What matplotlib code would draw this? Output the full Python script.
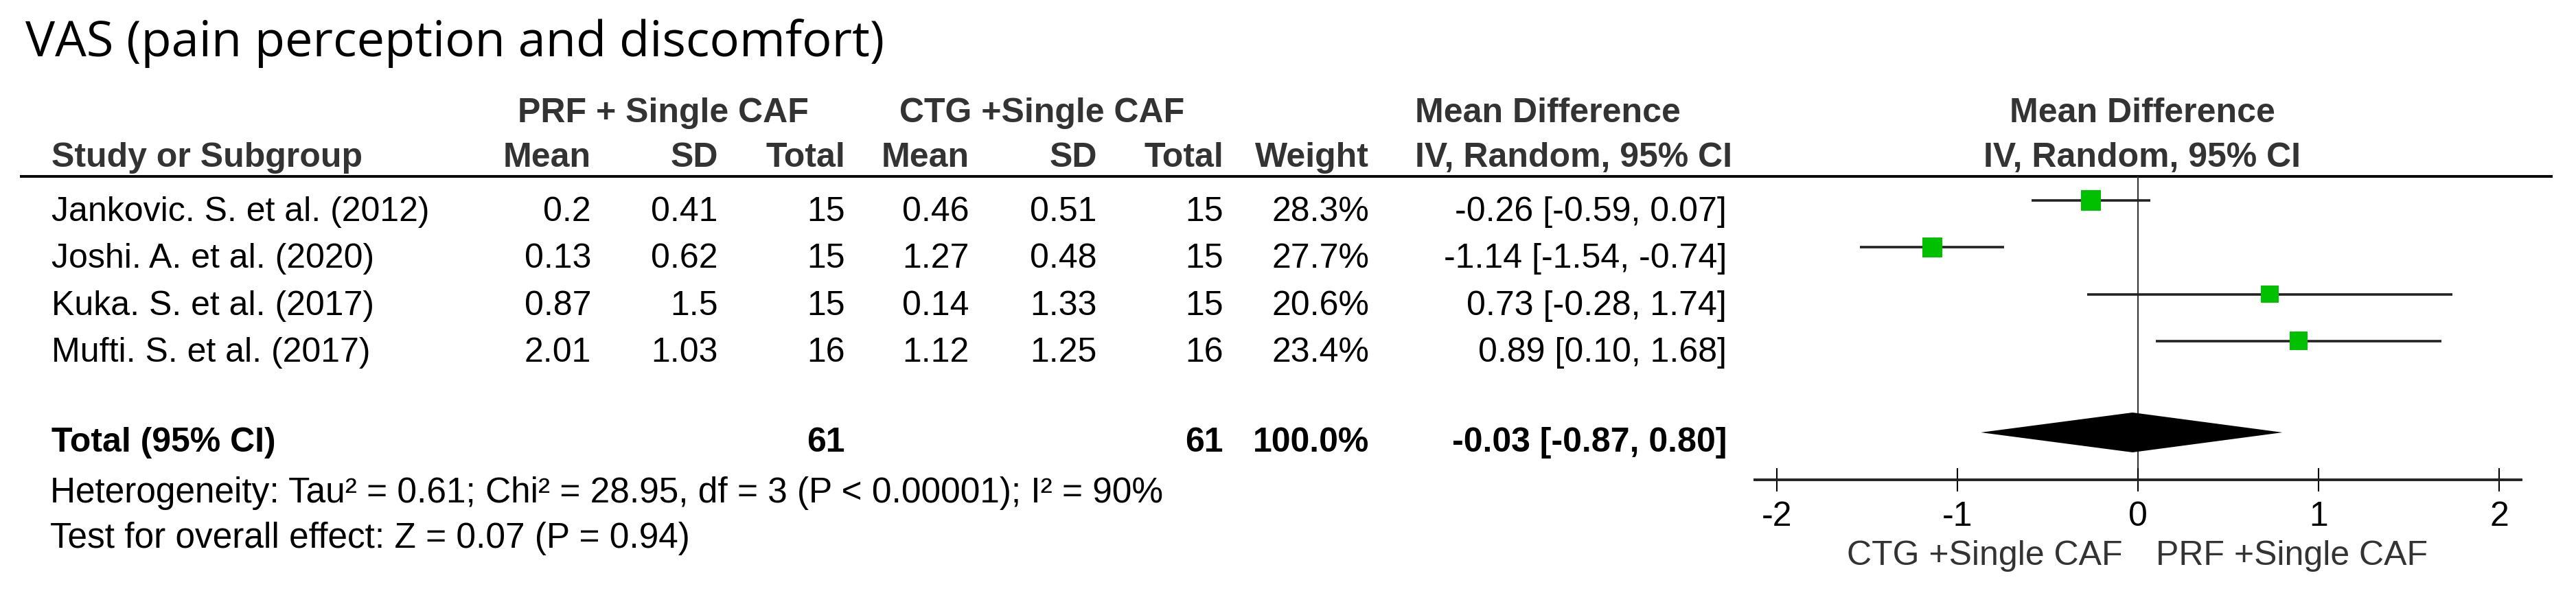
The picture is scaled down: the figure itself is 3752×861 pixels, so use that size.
import numpy as np
import matplotlib
matplotlib.use("Agg")
import matplotlib.pyplot as plt

plt.rcParams['axes.unicode_minus'] = False

# data
studies = ["Jankovic. S. et al. (2012)", "Joshi. A. et al. (2020)",
           "Kuka. S. et al. (2017)", "Mufti. S. et al. (2017)"]
prf_mean = [0.2, 0.13, 0.87, 2.01]
prf_sd = [0.41, 0.62, 1.5, 1.03]
prf_n = [15, 15, 15, 16]
ctg_mean = [0.46, 1.27, 0.14, 1.12]
ctg_sd = [0.51, 0.48, 1.33, 1.25]
ctg_n = [15, 15, 15, 16]
weights = [28.3, 27.7, 20.6, 23.4]
md = [-0.26, -1.14, 0.73, 0.89]
ci_lo = [-0.59, -1.54, -0.28, 0.10]
ci_hi = [0.07, -0.74, 1.74, 1.68]
total_md, total_lo, total_hi = -0.03, -0.87, 0.80
heterogeneity = "Heterogeneity: Tau² = 0.61; Chi² = 28.95, df = 3 (P < 0.00001); I² = 90%"
overall = "Test for overall effect: Z = 0.07 (P = 0.94)"
ticks = [-2, -1, 0, 1, 2]
left_label = "CTG +Single CAF"
right_label = "PRF +Single CAF"

W, H = 3752, 862
fig = plt.figure(figsize=(W / 100, H / 100), dpi=100)
ax = fig.add_axes([0, 0, 1, 1])
ax.set_xlim(0, W)
ax.set_ylim(H, 0)
ax.axis('off')

tf = ['Liberation Sans', 'DejaVu Sans']
fs = 36
hdr = dict(fontsize=fs, fontweight='bold', color='#333333', family=tf)
txt = dict(fontsize=fs, color='black', family=tf)

ax.text(37, 82, "VAS (pain perception and discomfort)", fontsize=52,
        family=['Open Sans', 'DejaVu Sans'], color='black', va='baseline')

# header
ax.text(966, 178, "PRF + Single CAF", ha='center', va='baseline', **hdr)
ax.text(1518, 178, "CTG +Single CAF", ha='center', va='baseline', **hdr)
ax.text(2061, 178, "Mean Difference", ha='left', va='baseline', **hdr)
ax.text(3120, 178, "Mean Difference", ha='center', va='baseline', **hdr)
ax.text(75, 243, "Study or Subgroup", ha='left', va='baseline', **hdr)
cols = [861, 1046, 1231, 1412, 1598, 1782, 1994]
for x, lab in zip(cols, ["Mean", "SD", "Total", "Mean", "SD", "Total", "Weight"]):
    ax.text(x, 243, lab, ha='right', va='baseline', **hdr)
ax.text(2061, 243, "IV, Random, 95% CI", ha='left', va='baseline', **hdr)
ax.text(3120, 243, "IV, Random, 95% CI", ha='center', va='baseline', **hdr)
ax.plot([29, 3718], [258, 258], color='black', lw=2.8, solid_capstyle='butt')

# rows
row0, step = 293, 68.3
row_y = [row0 + i * step for i in range(len(studies))]
md_right = 2515
for i, y in enumerate(row_y):
    b = y + 29
    ax.text(75, b, studies[i], ha='left', va='baseline', **txt)
    vals = [prf_mean[i], prf_sd[i], prf_n[i], ctg_mean[i], ctg_sd[i], ctg_n[i]]
    for x, v in zip(cols[:6], vals):
        ax.text(x, b, str(v), ha='right', va='baseline', **txt)
    ax.text(cols[6], b, f"{weights[i]:.1f}%", ha='right', va='baseline', **txt)
    ax.text(md_right, b, f"{md[i]:.2f} [{ci_lo[i]:.2f}, {ci_hi[i]:.2f}]",
            ha='right', va='baseline', **txt)

# total row
ty = 631
tb = ty + 27
bold = dict(txt, fontweight='bold')
ax.text(75, tb, "Total (95% CI)", ha='left', va='baseline', **bold)
ax.text(cols[2], tb, str(sum(prf_n)), ha='right', va='baseline', **bold)
ax.text(cols[5], tb, str(sum(ctg_n)), ha='right', va='baseline', **bold)
ax.text(cols[6], tb, f"{sum(weights):.1f}%", ha='right', va='baseline', **bold)
ax.text(md_right, tb, f"{total_md:.2f} [{total_lo:.2f}, {total_hi:.2f}]",
        ha='right', va='baseline', **bold)
foot = dict(txt, fontsize=37)
ax.text(73, 732, heterogeneity, ha='left', va='baseline', **foot)
ax.text(73, 798, overall, ha='left', va='baseline', **foot)

# forest axes: zero at x=3114 px, 263 px per unit
zero_px, unit = 3114, 263
xl = (-2.12, 2.12)
x0 = zero_px + xl[0] * unit
x1 = zero_px + xl[1] * unit
top, bot = 258, 700
axf = fig.add_axes([x0 / W, (H - bot) / H, (x1 - x0) / W, (bot - top) / H])
axf.set_facecolor('none')
axf.set_xlim(*xl)
axf.set_ylim(bot, top)
for s in ['top', 'left', 'right']:
    axf.spines[s].set_visible(False)
axf.spines['bottom'].set_linewidth(2.8)
axf.spines['bottom'].set_color('#222222')
axf.set_yticks([])
axf.set_xticks(ticks)
axf.set_xticklabels([str(t) for t in ticks])
axf.tick_params(axis='x', direction='inout', length=25, width=1.5, pad=9,
                labelsize=fs, colors='black')
for lab in axf.get_xticklabels():
    lab.set_family(tf)

axf.axvline(0, color='#333333', lw=1.5, zorder=1)
axf.hlines(row_y, ci_lo, ci_hi, color='#222222', lw=2.6, zorder=2)
sides = [29.5 * np.sqrt(w / 28.3) * 0.72 for w in weights]
axf.scatter(md, row_y, marker='s', s=[s ** 2 for s in sides], color='#00C000',
            linewidths=0, zorder=3)
dh = 29
axf.fill([total_lo, total_md, total_hi, total_md], [ty, ty - dh, ty, ty + dh],
         color='black', lw=0, zorder=3)

ax.text(3092, 823, left_label, ha='right', va='baseline', fontsize=fs,
        color='#333333', family=tf)
ax.text(3140, 823, right_label, ha='left', va='baseline', fontsize=fs,
        color='#333333', family=tf)

fig.savefig("out.png", dpi=100)
